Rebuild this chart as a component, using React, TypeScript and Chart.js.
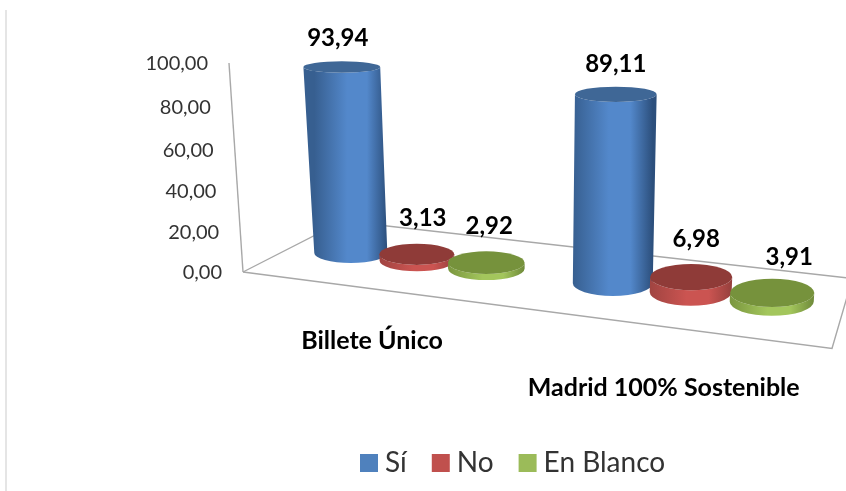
import React, { useEffect, useRef } from "react";
import { Chart, registerables } from "chart.js";

Chart.register(...registerables);

const categories = ["Billete Único", "Madrid 100% Sostenible"];
const seriesNames = ["Sí", "No", "En Blanco"];
const si = [93.94, 89.11];
const no = [3.13, 6.98];
const enBlanco = [2.92, 3.91];

const legendColors = ["#4f81bd", "#c0504d", "#9bbb59"];
const sideLeft = ["#375f90", "#a04441", "#7a963f"];
const sideMid = ["#5388cb", "#cb5451", "#a3c65c"];
const sideRight = ["#2c4f7c", "#96403d", "#6f8a3a"];
const capColors = ["#3f6796", "#8f3b38", "#76923c"];
const valueOffsets = [
  [[-4, -29], [6, -36], [3, -36]],
  [[0, -30], [5, -38], [17, -36]],
];
const catLabelShift = [[-45, 341], [-27, 388]];
const FONT = "Lato, 'Open Sans', sans-serif";

// flat chart pixel -> perspective screen x
const px = (f: number) => 417 + 0.8554 * (f - 390.25) + 0.000251 * (f - 390.25) ** 2;
const baseY = (sx: number) => 253 + 0.115 * (sx - 350.5);
const pxPer100 = (sx: number) => 198 + 0.0533 * (sx - 350.5);
const lean = (sx: number) => -9.6 + 0.0495 * (sx - 350.5);

const perspective = {
  id: "perspective",
  beforeDraw(chart: any) {
    const ctx0 = chart.ctx as CanvasRenderingContext2D;
    ctx0.save();
    ctx0.strokeStyle = "#dcdcdc";
    ctx0.lineWidth = 1.5;
    ctx0.beginPath();
    ctx0.moveTo(6, 10);
    ctx0.lineTo(6, 491);
    ctx0.stroke();
    ctx0.restore();

    const y = chart.scales.y;
    const x = chart.scales.x;
    const yItems = y.getLabelItems();
    if (!yItems.__done) {
      yItems.__done = true;
      y.ticks.forEach((t: any, i: number) => {
        const v = t.value / 100;
        const g = v * (0.95 + 0.05 * v);
        const it = yItems[i];
        it.options.translation = [222 - 14 * v, 273 - 209 * g];
        it.options.textAlign = "right";
        it.options.textBaseline = "middle";
        it.textOffset = 0;
      });
    }
    const xItems = x.getLabelItems();
    if (!xItems.__done) {
      xItems.__done = true;
      xItems.forEach((it: any, i: number) => {
        const f = x.getPixelForTick(i);
        it.options.translation = [px(f) + catLabelShift[i][0], catLabelShift[i][1]];
        it.options.textAlign = "center";
        it.options.textBaseline = "middle";
        it.textOffset = 0;
      });
    }
    const lg = chart.legend;
    if (!lg.__moved) {
      lg.__moved = true;
      const pad = lg.options.labels.padding;
      lg.options.align = "start";
      lg.left = 367 - pad;
      lg.right = 1000;
      lg.top = 449 - pad;
    }
  },
  beforeDatasetsDraw(chart: any) {
    const ctx = chart.ctx as CanvasRenderingContext2D;
    const line = (pts: number[][]) => {
      ctx.beginPath();
      pts.forEach((p, i) => (i ? ctx.lineTo(p[0], p[1]) : ctx.moveTo(p[0], p[1])));
      ctx.stroke();
    };
    ctx.save();
    ctx.strokeStyle = "#a8a8a8";
    ctx.lineWidth = 1.4;
    const { left, right, top, bottom } = chart.chartArea;
    line([[left - 14, top - 1], [left, bottom - 1]]);
    line([[left, bottom - 1], [343, 221], [866, 280]]);
    line([[left, bottom - 1], [right, 348.5], [866, 232]]);
    // cylinders, left to right
    for (let c = 0; c < categories.length; c++) {
      for (let d = 0; d < chart.data.datasets.length; d++) {
        const bar = chart.getDatasetMeta(d).data[c] as any;
        const value = chart.data.datasets[d].data[c] as number;
        const v = value / 100;
        const sx = px(bar.x);
        const by = baseY(sx);
        const tx = sx + lean(sx) * v;
        const ty = by - pxPer100(sx) * v;
        const rxB = (bar.width / 2) * (0.922 + 0.000331 * (sx - 350.5));
        const rxT = rxB * (1 + v * (0.055 - 0.000114 * (sx - 350.5)));
        const ryB = 10 + 0.0105 * (sx - 350.5);
        const ryT = ryB * (1 - 0.45 * v);
        const grad = ctx.createLinearGradient(sx - rxB, 0, sx + rxB, 0);
        grad.addColorStop(0, sideLeft[d]);
        grad.addColorStop(0.45, sideMid[d]);
        grad.addColorStop(0.72, sideMid[d]);
        grad.addColorStop(1, sideRight[d]);
        ctx.fillStyle = grad;
        ctx.beginPath();
        ctx.moveTo(tx - rxT, ty);
        ctx.lineTo(sx - rxB, by);
        ctx.ellipse(sx, by, rxB, ryB, 0, Math.PI, 0, true);
        ctx.lineTo(tx + rxT, ty);
        ctx.ellipse(tx, ty, rxT, ryT, 0, 0, Math.PI, false);
        ctx.closePath();
        ctx.fill();
        ctx.fillStyle = capColors[d];
        ctx.beginPath();
        ctx.ellipse(tx, ty, rxT, ryT, 0, 0, Math.PI * 2);
        ctx.fill();
      }
    }
    // value labels
    ctx.fillStyle = "#000";
    ctx.font = `bold 24px ${FONT}`;
    ctx.textAlign = "center";
    ctx.textBaseline = "middle";
    for (let c = 0; c < categories.length; c++) {
      for (let d = 0; d < chart.data.datasets.length; d++) {
        const bar = chart.getDatasetMeta(d).data[c] as any;
        const value = chart.data.datasets[d].data[c] as number;
        const v = value / 100;
        const sx = px(bar.x);
        const tx = sx + lean(sx) * v;
        const ty = baseY(sx) - pxPer100(sx) * v;
        const off = valueOffsets[c][d];
        ctx.fillText(value.toFixed(2).replace(".", ","), tx + off[0], ty + off[1]);
      }
    }
    ctx.restore();
    return false;
  },
};

export default function App() {
  const ref = useRef<HTMLCanvasElement>(null);
  useEffect(() => {
    document.body.style.margin = "0";
    const values = [si, no, enBlanco];
    const chart = new Chart(ref.current!, {
      type: "bar",
      data: {
        labels: categories,
        datasets: seriesNames.map((name, i) => ({
          label: name,
          data: values[i],
          backgroundColor: legendColors[i],
          borderColor: legendColors[i],
          borderWidth: 14,
          categoryPercentage: 0.807,
          barPercentage: 1,
        })),
      },
      options: {
        responsive: false,
        animation: false,
        events: [],
        layout: { padding: { top: 64, right: 14, left: 0, bottom: 0 } },
        plugins: {
          tooltip: { enabled: false },
          legend: {
            position: "bottom",
            labels: {
              boxWidth: 4,
              boxHeight: 4,
              padding: 32,
              color: "#333333",
              font: { family: FONT, size: 28 },
            },
          },
        },
        scales: {
          x: {
            grid: { display: false },
            border: { display: false },
            ticks: {
              maxRotation: 0,
              autoSkip: false,
              color: "#000",
              font: { family: FONT, size: 25, weight: "bold" },
            },
            afterFit(s: any) {
              s.height = 148;
            },
          },
          y: {
            min: 0,
            max: 100,
            grid: { display: false },
            border: { display: false },
            ticks: {
              stepSize: 20,
              color: "#333333",
              font: { family: FONT, size: 20 },
              callback: (v: any) => Number(v).toFixed(2).replace(".", ","),
            },
            afterFit(s: any) {
              s.width = 243;
            },
          },
        },
      },
      plugins: [perspective],
    } as any);
    return () => chart.destroy();
  }, []);
  return (
    <div style={{ position: "absolute", left: 0, top: 0, width: 846, height: 491, background: "#fff" }}>
      <canvas ref={ref} width={846} height={491} style={{ display: "block" }} />
    </div>
  );
}
